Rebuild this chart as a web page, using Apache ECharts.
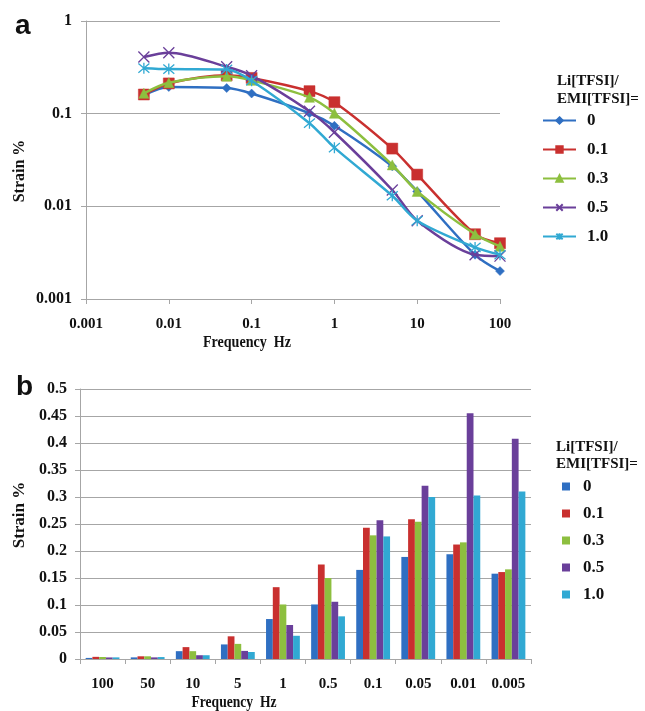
<!DOCTYPE html>
<html>
<head>
<meta charset="utf-8">
<script src="https://cdn.jsdelivr.net/npm/echarts@6/dist/echarts.min.js"></script>
<style>
  html, body { margin: 0; padding: 0; background: #fff; }
  #chart { width: 645px; height: 711px; }
</style>
</head>
<body>
<div id="chart"></div>
<script>
// frequencies (Hz), in bar-chart order
const freqLabels = ['100', '50', '10', '5', '1', '0.5', '0.1', '0.05', '0.01', '0.005']
const freqs = [100, 50, 10, 5, 1, 0.5, 0.1, 0.05, 0.01, 0.005]

// strain % per Li[TFSI]/EMI[TFSI] ratio
const seriesNames = ['0', '0.1', '0.3', '0.5', '1.0']
const strain0 = [0.002, 0.003, 0.0145, 0.027, 0.074, 0.101, 0.165, 0.189, 0.194, 0.158]
const strain01 = [0.004, 0.005, 0.022, 0.042, 0.133, 0.175, 0.243, 0.259, 0.212, 0.161]
const strain03 = [0.0037, 0.005, 0.0145, 0.028, 0.101, 0.150, 0.229, 0.254, 0.216, 0.166]
const strain05 = [0.0029, 0.003, 0.007, 0.015, 0.063, 0.106, 0.257, 0.321, 0.455, 0.408]
const strain10 = [0.003, 0.0036, 0.007, 0.013, 0.043, 0.079, 0.227, 0.300, 0.303, 0.310]
const allStrain = [strain0, strain01, strain03, strain05, strain10]

const logTicks = ['0.001', '0.01', '0.1', '1', '10', '100']

const colors = ['#2f6fc2', '#c9302f', '#8dbf3f', '#6a3f9a', '#31a9d3']
const symbols = [
  'diamond',
  'rect',
  'triangle',
  'path://M0,0L10,10M10,0L0,10',
  'path://M0,0L10,10M10,0L0,10M5,-1L5,11'
]
const symbolSizes = [9, 11, 10, 11, 11]

const serif = '"Liberation Serif", "DejaVu Serif", serif'
const gridGray = '#a6a6a6'

const chart = echarts.init(document.getElementById('chart'))

const logLabel = v => logTicks.find(t => Math.abs(Number(t) - v) / v < 1e-6) || ''

const lineSeries = seriesNames.map((name, i) => {
  const stroked = i >= 3
  return {
    name: name,
    type: 'line',
    xAxisIndex: 0,
    yAxisIndex: 0,
    smooth: 0.3,
    symbol: symbols[i],
    symbolSize: symbolSizes[i],
    lineStyle: { color: colors[i], width: 2.5 },
    itemStyle: stroked
      ? { color: colors[i], borderColor: colors[i], borderWidth: 1.3 }
      : { color: colors[i], borderColor: colors[i], borderWidth: 0.5 },
    data: freqs.map((f, k) => [f, allStrain[i][k]]),
    z: 3 + i
  }
})

const barSeries = seriesNames.map((name, i) => ({
  name: name,
  type: 'bar',
  xAxisIndex: 1,
  yAxisIndex: 1,
  barGap: 0,
  barCategoryGap: '25%',
  itemStyle: { color: colors[i] },
  data: allStrain[i]
}))

const tickLabel = (size, margin) => ({
  margin: margin,
  color: '#111',
  fontFamily: serif,
  fontWeight: 'bold',
  fontSize: size
})

const option = {
  animation: false,
  textStyle: { fontFamily: serif },
  grid: [
    { left: 86, top: 21, width: 414, height: 278 },
    { left: 80, top: 389, width: 451, height: 270 }
  ],
  xAxis: [
    {
      gridIndex: 0,
      type: 'log',
      logBase: 10,
      min: 0.001,
      max: 100,
      axisLine: { show: true, lineStyle: { color: gridGray, width: 1 } },
      axisTick: { show: true, length: 5, lineStyle: { color: gridGray } },
      axisLabel: { ...tickLabel(15, 18), formatter: logLabel },
      splitLine: { show: false },
      minorTick: { show: false }
    },
    {
      gridIndex: 1,
      type: 'category',
      data: freqLabels,
      axisLine: { show: true, lineStyle: { color: gridGray, width: 1 } },
      axisTick: { show: true, length: 5, lineStyle: { color: gridGray } },
      axisLabel: tickLabel(15, 18)
    }
  ],
  yAxis: [
    {
      gridIndex: 0,
      type: 'log',
      logBase: 10,
      min: 0.001,
      max: 1,
      axisLine: { show: true, lineStyle: { color: gridGray, width: 1 } },
      axisTick: { show: true, length: 5, lineStyle: { color: gridGray } },
      axisLabel: { ...tickLabel(16, 14), formatter: logLabel },
      splitLine: { show: true, lineStyle: { color: gridGray, width: 1 } }
    },
    {
      gridIndex: 1,
      type: 'value',
      min: 0,
      max: 0.5,
      interval: 0.05,
      axisLine: { show: true, lineStyle: { color: gridGray, width: 1 } },
      axisTick: { show: true, length: 5, lineStyle: { color: gridGray } },
      axisLabel: { ...tickLabel(16, 13), formatter: v => String(Math.round(v * 100) / 100) },
      splitLine: { show: true, lineStyle: { color: gridGray, width: 1 } }
    }
  ],
  legend: [
    {
      orient: 'vertical',
      left: 537,
      top: 107,
      itemWidth: 33,
      itemHeight: 8,
      itemGap: 12,
      textStyle: { color: '#111', fontFamily: serif, fontWeight: 'bold', fontSize: 17, padding: [0, 0, 0, 6] },
      data: seriesNames.map(n => ({ name: n }))
    },
    {
      orient: 'vertical',
      left: 557,
      top: 473,
      itemWidth: 8,
      itemHeight: 8,
      itemGap: 10,
      textStyle: { color: '#111', fontFamily: serif, fontWeight: 'bold', fontSize: 17, padding: [0, 0, 0, 8] },
      data: seriesNames.map((n, i) => ({
        name: n,
        icon: 'rect',
        itemStyle: { color: colors[i], borderWidth: 0 }
      }))
    }
  ],
  graphic: [
    { type: 'text', left: 15, top: 12, style: { text: 'a', font: 'bold 28px "Liberation Sans", Arial, sans-serif', fill: '#111' } },
    { type: 'text', left: 16, top: 373, style: { text: 'b', font: 'bold 28px "Liberation Sans", Arial, sans-serif', fill: '#111' } },
    { type: 'text', left: 557, top: 72, style: { text: 'Li[TFSI]/\nEMI[TFSI]=', font: 'bold 15px ' + serif, fill: '#111', lineHeight: 18 } },
    { type: 'text', left: 556, top: 439, style: { text: 'Li[TFSI]/\nEMI[TFSI]=', font: 'bold 15px ' + serif, fill: '#111', lineHeight: 17 } },
    { type: 'text', x: 20, y: 171, rotation: Math.PI / 2, style: { text: 'Strain %', font: 'bold 16px ' + serif, fill: '#111', align: 'center', verticalAlign: 'middle' } },
    { type: 'text', x: 20, y: 515, rotation: Math.PI / 2, style: { text: 'Strain %', font: 'bold 17px ' + serif, fill: '#111', align: 'center', verticalAlign: 'middle' } },
    { type: 'text', x: 247, y: 343, scaleX: 0.88, style: { text: 'Frequency  Hz', font: 'bold 16px ' + serif, fill: '#111', align: 'center', verticalAlign: 'middle' } },
    { type: 'text', x: 234, y: 703, scaleX: 0.85, style: { text: 'Frequency  Hz', font: 'bold 16px ' + serif, fill: '#111', align: 'center', verticalAlign: 'middle' } }
  ],
  series: [...lineSeries, ...barSeries]
}

chart.setOption(option)
</script>
</body>
</html>
